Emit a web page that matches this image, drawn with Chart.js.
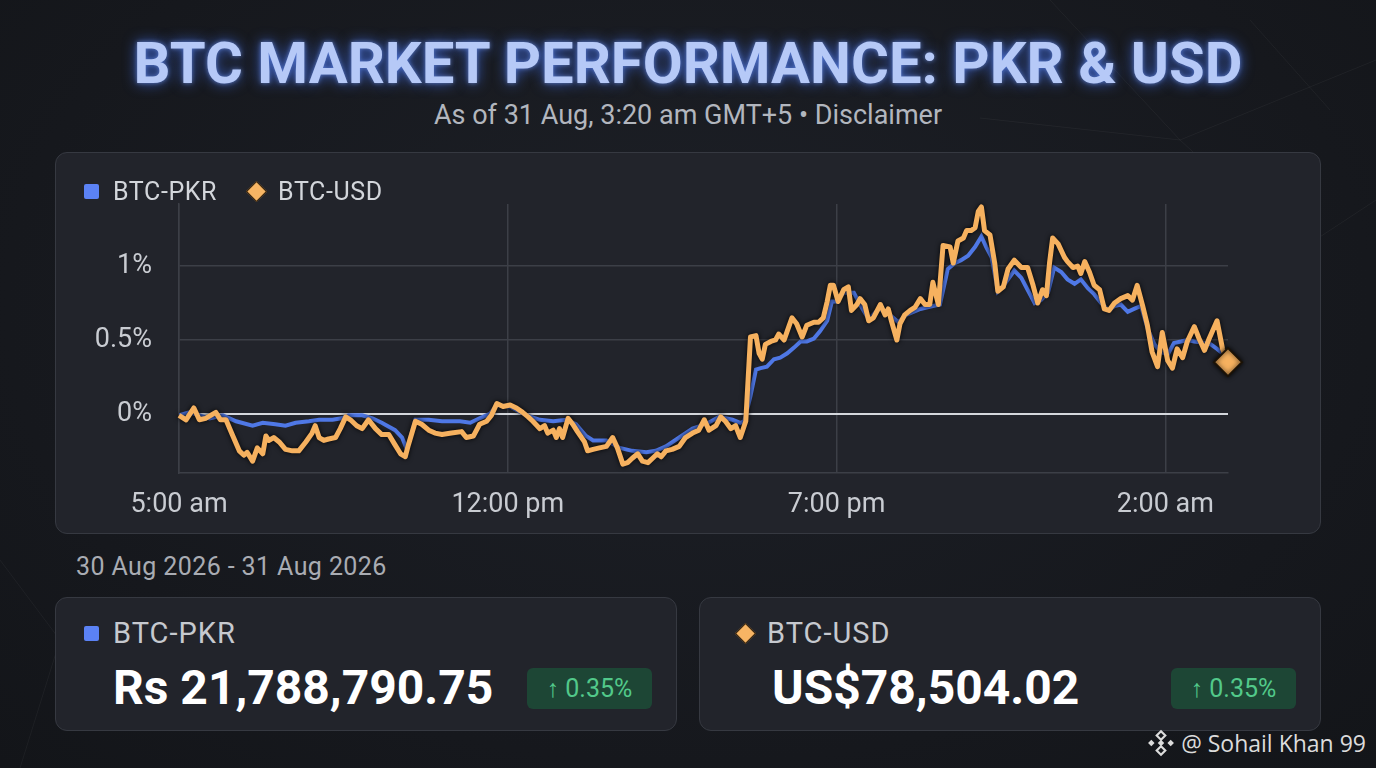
<!DOCTYPE html>
<html>
<head>
<meta charset="utf-8">
<script src="https://cdn.jsdelivr.net/npm/chart.js@4.4.1/dist/chart.umd.min.js"></script>
<style>
  html, body { margin: 0; padding: 0; }
  body {
    width: 1376px; height: 768px; overflow: hidden; position: relative;
    background: radial-gradient(ellipse at 50% 40%, #1d2027 0%, #16181d 70%, #131519 100%);
    font-family: Roboto, "Noto Sans", sans-serif; color: #d0d3d8;
  }
  .bgnet { position: absolute; left: 0; top: 0; }
  .title {
    position: absolute; left: 0; top: 29px; width: 1376px; text-align: center;
    font-size: 58px; font-weight: 700; letter-spacing: 0px;
    color: #b6c9f7;
    text-shadow: 0 0 14px rgba(70,120,255,0.75), 0 0 4px rgba(150,180,255,0.6);
  }
  .subtitle {
    position: absolute; left: 0; top: 99px; width: 1376px; text-align: center;
    font-size: 27px; color: #b2b6be;
  }
  .card {
    position: absolute; background: #22242b; border: 1.5px solid #363941;
    border-radius: 12px; box-sizing: border-box;
  }
  #chartCard { left: 55px; top: 152px; width: 1266px; height: 382px; }
  #chartWrap { position: absolute; left: 0; top: 0; width: 1263px; height: 379px; }
  .legend { position: absolute; left: 28px; top: 24px; font-size: 25px; letter-spacing: 0.6px; color: #d3d6db; display: flex; align-items: center; }
  .sq { display: inline-block; width: 15px; height: 15px; background: #5b82f5; border-radius: 2px; margin-right: 14px; }
  .dia { display: inline-block; width: 15px; height: 15px; background: #f7b564; transform: rotate(45deg); border: 1.5px solid #2a1a08; box-sizing: border-box; margin-right: 14px; }
  .range { position: absolute; left: 76px; top: 552px; font-size: 25px; letter-spacing: 0.4px; color: #a9acb3; }
  #pkrCard { left: 55px; top: 597px; width: 622px; height: 134px; }
  #usdCard { left: 699px; top: 597px; width: 622px; height: 134px; }
  .cname { position: absolute; left: 28px; top: 18px; font-size: 29px; letter-spacing: 1px; color: #c6c9cf; display: flex; align-items: center; }
  .cval { position: absolute; left: 57px; top: 61px; font-size: 48px; font-weight: 700; color: #ffffff; }
  #usdCard .cval { left: 72px; }
  #usdCard .cname { left: 38px; }
  .badge {
    position: absolute; top: 70px; width: 125px; height: 41px; border-radius: 6px;
    background: #1d4635; color: #52c98a; font-size: 25px; line-height: 41px; text-align: center;
  }
  #pkrCard .badge { left: 471px; }
  #usdCard .badge { left: 471px; }
  .mark { position: absolute; right: 10px; top: 727px; font-size: 23px; color: #dcdcdc; font-family: "Open Sans", "Noto Sans", sans-serif; display: flex; align-items: center; }
</style>
</head>
<body>
<svg class="bgnet" width="1376" height="768">
  <g stroke="rgba(255,255,255,0.045)" stroke-width="1" fill="none">
    <path d="M1050 0 L1180 140 L1376 60"/>
    <path d="M1180 140 L1300 250 L1376 200"/>
    <path d="M0 560 L60 640 L20 768"/>
    <path d="M60 640 L160 700"/>
    <path d="M1250 20 L1330 110"/>
    <path d="M980 118 L1180 140"/>
  </g>
</svg>

<div class="title">BTC MARKET PERFORMANCE: PKR &amp; USD</div>
<div class="subtitle">As of 31 Aug, 3:20 am GMT+5 • Disclaimer</div>

<div class="card" id="chartCard">
  <div id="chartWrap"><canvas id="chartCanvas"></canvas></div>
  <div class="legend"><span class="sq"></span>BTC-PKR<span style="width:32px"></span><span class="dia"></span>BTC-USD</div>
</div>

<div class="range">30 Aug 2026 - 31 Aug 2026</div>

<div class="card" id="pkrCard">
  <div class="cname"><span class="sq"></span>BTC-PKR</div>
  <div class="cval">Rs 21,788,790.75</div>
  <div class="badge">↑ 0.35%</div>
</div>
<div class="card" id="usdCard">
  <div class="cname"><span class="dia"></span>BTC-USD</div>
  <div class="cval">US$78,504.02</div>
  <div class="badge">↑ 0.35%</div>
</div>

<div class="mark">
  <svg width="28" height="28" viewBox="0 0 26 26" style="margin-right:6px">
    <g fill="#dcdcdc">
      <path d="M13 2 L17 6 L13 10 L9 6 Z" fill="none" stroke="#dcdcdc" stroke-width="2"/>
      <path d="M13 16 L17 20 L13 24 L9 20 Z" fill="none" stroke="#dcdcdc" stroke-width="2"/>
      <path d="M13 10 L16 13 L13 16 L10 13 Z"/>
      <path d="M4 10 L7 13 L4 16 L1 13 Z"/>
      <path d="M22 10 L25 13 L22 16 L19 13 Z"/>
    </g>
  </svg>@ Sohail Khan 99
</div>

<script>
// time axis: minutes since 5:00 am, 30 Aug
const tickMinutes = [0, 420, 840, 1260];
const tickLabels = ['5:00 am', '12:00 pm', '7:00 pm', '2:00 am'];
const yTicks = [0, 0.5, 1];

// BTC-PKR % change (minute offset, value)
const pkrMinutes = [0, 13, 39, 56, 60, 73, 94, 107, 123, 136, 149, 166, 179, 196, 208, 217, 234, 247, 259, 276,
  285, 291, 302, 319, 336, 359, 372, 384, 397, 406, 423, 444, 461, 478, 495, 507, 520, 529, 546, 563,
  579, 597, 609, 622, 639, 656, 673, 690, 707, 717, 722, 730, 737, 743, 751, 760, 768, 777, 786, 794,
  802, 811, 819, 828, 834, 840, 849, 862, 871, 881, 894, 906, 919, 929, 947, 963, 972, 980, 982, 991,
  999, 1008, 1017, 1025, 1031, 1038, 1046, 1055, 1067, 1076, 1084, 1093, 1101, 1110, 1118, 1127, 1135, 1144, 1152, 1161,
  1169, 1178, 1188, 1195, 1203, 1212, 1220, 1229, 1237, 1246, 1254, 1263, 1271, 1280, 1288, 1297, 1310, 1318, 1326, 1335, 1340];
const pkrChange = [-0.01, 0.01, -0.03, -0.01, -0.02, -0.05, -0.08, -0.06, -0.07, -0.08, -0.06, -0.05, -0.04, -0.04, -0.03, -0.01, -0.01, -0.03, -0.06, -0.11,
  -0.16, -0.24, -0.04, -0.04, -0.05, -0.05, -0.06, -0.03, 0.00, 0.06, 0.05, -0.01, -0.04, -0.05, -0.04, -0.07, -0.15, -0.18, -0.18, -0.23,
  -0.25, -0.26, -0.25, -0.22, -0.16, -0.10, -0.07, -0.02, -0.04, -0.06, -0.05, 0.12, 0.30, 0.31, 0.32, 0.37, 0.38, 0.41, 0.45, 0.49,
  0.49, 0.51, 0.56, 0.63, 0.76, 0.76, 0.82, 0.82, 0.73, 0.64, 0.71, 0.68, 0.62, 0.67, 0.71, 0.73, 0.74, 0.93, 0.98, 1.02,
  1.04, 1.07, 1.13, 1.20, 1.13, 1.06, 0.83, 0.88, 0.97, 0.92, 0.84, 0.75, 0.77, 0.82, 0.99, 0.96, 0.91, 0.88, 0.91, 0.85,
  0.81, 0.75, 0.70, 0.73, 0.74, 0.69, 0.71, 0.73, 0.58, 0.47, 0.42, 0.40, 0.48, 0.49, 0.50, 0.49, 0.48, 0.47, 0.44, 0.40, 0.36];

// BTC-USD % change (minute offset, value)
const usdMinutes = [0, 9, 19, 26, 34, 47, 53, 60, 68, 77, 83, 87, 94, 100, 107, 111, 115, 121, 128, 136,
  145, 153, 162, 170, 174, 179, 185, 191, 200, 206, 213, 219, 227, 234, 242, 251, 259, 268, 276, 283,
  289, 293, 302, 310, 319, 327, 336, 348, 361, 367, 376, 384, 393, 399, 406, 414, 423, 431, 439, 446,
  452, 461, 467, 471, 478, 482, 486, 490, 497, 503, 509, 518, 522, 529, 537, 546, 554, 560, 567, 573,
  579, 586, 592, 599, 605, 611, 616, 622, 630, 639, 647, 656, 664, 671, 677, 686, 692, 698, 705, 711,
  717, 724, 730, 737, 741, 745, 749, 756, 762, 766, 773, 779, 783, 789, 796, 802, 811, 817, 823, 828,
  832, 836, 842, 849, 855, 859, 866, 870, 876, 881, 887, 896, 902, 906, 910, 917, 921, 927, 934, 940,
  947, 953, 959, 963, 970, 976, 985, 989, 995, 1002, 1006, 1012, 1017, 1021, 1025, 1029, 1036, 1042, 1046, 1053,
  1059, 1067, 1076, 1084, 1091, 1097, 1103, 1108, 1112, 1116, 1123, 1131, 1135, 1142, 1148, 1152, 1157, 1163, 1169, 1176,
  1182, 1188, 1195, 1203, 1212, 1218, 1224, 1231, 1237, 1243, 1250, 1256, 1263, 1269, 1275, 1282, 1288, 1297, 1303, 1310,
  1316, 1326, 1333, 1340];
const usdChange = [-0.01, -0.04, 0.04, -0.04, -0.03, 0.01, -0.04, -0.04, -0.14, -0.25, -0.28, -0.26, -0.32, -0.23, -0.27, -0.15, -0.18, -0.16, -0.19, -0.24,
  -0.25, -0.25, -0.19, -0.13, -0.08, -0.16, -0.18, -0.17, -0.16, -0.10, -0.02, -0.04, -0.08, -0.10, -0.04, -0.10, -0.14, -0.14, -0.21, -0.27,
  -0.29, -0.21, -0.05, -0.07, -0.11, -0.13, -0.14, -0.13, -0.12, -0.16, -0.15, -0.07, -0.05, -0.01, 0.07, 0.05, 0.06, 0.04, 0.01, -0.02,
  -0.05, -0.10, -0.08, -0.13, -0.11, -0.16, -0.10, -0.16, -0.03, -0.07, -0.12, -0.19, -0.25, -0.24, -0.23, -0.22, -0.16, -0.23, -0.34, -0.33,
  -0.30, -0.27, -0.32, -0.33, -0.30, -0.27, -0.29, -0.25, -0.24, -0.22, -0.16, -0.13, -0.11, -0.04, -0.11, -0.08, -0.02, -0.05, -0.10, -0.08,
  -0.16, -0.05, 0.52, 0.53, 0.41, 0.37, 0.47, 0.49, 0.50, 0.54, 0.50, 0.59, 0.65, 0.61, 0.52, 0.60, 0.62, 0.62, 0.65, 0.76,
  0.87, 0.87, 0.76, 0.84, 0.86, 0.70, 0.74, 0.78, 0.74, 0.63, 0.65, 0.74, 0.67, 0.71, 0.63, 0.50, 0.61, 0.67, 0.70, 0.72,
  0.78, 0.74, 0.74, 0.89, 0.74, 1.14, 1.13, 1.02, 1.17, 1.19, 1.24, 1.24, 1.26, 1.37, 1.40, 1.24, 1.21, 1.02, 0.83, 0.86,
  0.98, 1.04, 0.99, 0.99, 0.87, 0.75, 0.84, 0.80, 1.02, 1.19, 1.15, 1.06, 1.03, 0.99, 1.00, 0.95, 1.03, 0.96, 0.87, 0.84,
  0.71, 0.70, 0.75, 0.78, 0.80, 0.77, 0.87, 0.73, 0.60, 0.42, 0.32, 0.55, 0.36, 0.31, 0.44, 0.38, 0.49, 0.59, 0.51, 0.43,
  0.51, 0.63, 0.44, 0.35];

const pkrColor = '#4f78e6';
const usdColor = '#f6b15f';

function toPoints(xs, ys) {
  return xs.map((x, i) => ({ x: x, y: ys[i] }));
}

// dark halo under the orange line
const lineShadow = {
  id: 'lineShadow',
  beforeDatasetDraw(chart, args) {
    if (args.index !== 1) return;
    chart.ctx.save();
    chart.ctx.shadowColor = 'rgba(0,0,0,0.9)';
    chart.ctx.shadowBlur = 5;
  },
  afterDatasetDraw(chart, args) {
    if (args.index !== 1) return;
    chart.ctx.restore();
  }
};

document.addEventListener('DOMContentLoaded', () => {
  const ctx = document.getElementById('chartCanvas').getContext('2d');
  const lastUsd = usdMinutes.length - 1;

  new Chart(ctx, {
    type: 'line',
    data: {
      datasets: [
        {
          label: 'BTC-PKR',
          data: toPoints(pkrMinutes, pkrChange),
          borderColor: pkrColor,
          borderWidth: 4,
          pointRadius: 0,
          tension: 0,
          order: 1,
        },
        {
          label: 'BTC-USD',
          data: toPoints(usdMinutes, usdChange),
          borderColor: usdColor,
          backgroundColor: usdColor,
          borderWidth: 5,
          borderJoinStyle: 'round',
          pointRadius: (c) => (c.dataIndex === lastUsd ? 14 : 0),
          pointStyle: 'rectRot',
          pointBorderColor: '#1b1206',
          pointBorderWidth: 2,
          pointBackgroundColor: usdColor,
          tension: 0,
          clip: false,
          order: 0,
        },
      ],
    },
    options: {
      responsive: true,
      maintainAspectRatio: false,
      animation: false,
      layout: { padding: { left: 0, right: 91, top: 51, bottom: 7 } },
      plugins: { legend: { display: false }, tooltip: { enabled: false } },
      scales: {
        x: {
          type: 'linear',
          min: 0,
          max: 1340,
          afterBuildTicks: (scale) => { scale.ticks = tickMinutes.map((v) => ({ value: v })); },
          afterFit: (scale) => { scale.height = 52; },
          ticks: {
            color: '#c9ccd2',
            font: { family: 'Roboto', size: 27 },
            padding: 16,
            maxRotation: 0,
            autoSkip: false,
            callback: (v) => tickLabels[tickMinutes.indexOf(v)],
          },
          grid: { color: '#3c3f47', lineWidth: 1.5, drawTicks: false },
          border: { color: '#3c3f47', width: 1.5 },
        },
        y: {
          min: -0.4,
          max: 1.42,
          afterBuildTicks: (scale) => { scale.ticks = yTicks.map((v) => ({ value: v })); },
          afterFit: (scale) => { scale.width = 123; },
          ticks: {
            color: '#c9ccd2',
            font: { family: 'Roboto', size: 27 },
            padding: 27,
            callback: (v) => v + '%',
          },
          grid: {
            drawTicks: false,
            color: (c) => (c.tick && c.tick.value === 0 ? '#d4d7dc' : '#3c3f47'),
            lineWidth: (c) => (c.tick && c.tick.value === 0 ? 2 : 1.5),
          },
          border: { color: '#3c3f47', width: 1.5 },
        },
      },
    },
    plugins: [lineShadow],
  });
});
</script>
</body>
</html>
